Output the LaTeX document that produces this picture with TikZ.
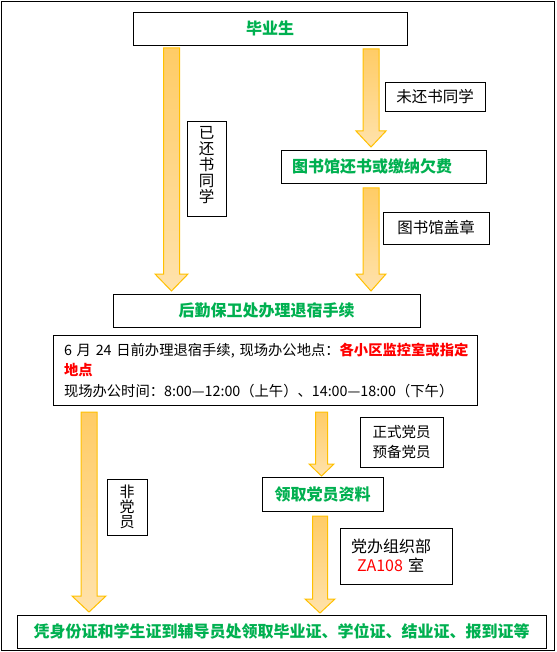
\documentclass[tikz,border=0pt]{standalone}
\usepackage{fontspec}
\setmainfont{Noto Sans CJK SC}
\usepackage{tikz}
\usetikzlibrary{calc}
\usepackage{xcolor}
\definecolor{stepgreen}{RGB}{0, 176, 80}
\definecolor{noticered}{RGB}{255, 0, 0}
\definecolor{arrowedge}{RGB}{255, 192, 0}
\definecolor{arrowtop}{RGB}{255, 204, 102}
\definecolor{arrowbottom}{RGB}{255, 226, 172}
% #1 top, #2 tip, #3 half shaft, #4 half head, #5 head length
\newcommand{\fatarrow}[5]{%
  \shade[top color=arrowtop, bottom color=arrowbottom, draw=arrowedge, line width=1pt, line join=miter]
    let \p1=(#1), \p2=(#2) in
    (\x1-#3pt,\y1) -- (\x1+#3pt,\y1) -- (\x1+#3pt,\y2+#5pt) -- (\x1+#4pt,\y2+#5pt)
    -- (\x2,\y2) -- (\x1-#4pt,\y2+#5pt) -- (\x1-#3pt,\y2+#5pt) -- cycle;}

\begin{document}
\begin{tikzpicture}[x=1pt, y=-1pt,
    stepbox/.style={draw, line width=0.8pt, inner sep=0pt, text=stepgreen,
      font=\fontsize{16}{19}\selectfont\bfseries},
    notebox/.style={draw, line width=0.8pt, inner sep=0pt, align=center,
      font=\fontsize{15.5}{16}\selectfont}]

  \useasboundingbox (0,0) rectangle (556,652);
  \draw[line width=0.8pt] (1.5,1.5) rectangle (554,650.5);

  % ---------- Steps ----------
  \node[stepbox, minimum width=274pt, minimum height=33pt] (grad) at (270,28.5) {毕业生};
  \node[stepbox, minimum width=205pt, minimum height=33pt, text width=183pt, inner xsep=11pt, align=left] (lib) at (383.5,166.5) {图书馆还书或缴纳欠费};
  \node[stepbox, minimum width=307pt, minimum height=33pt] (dorm) at (266.5,310.5) {后勤保卫处办理退宿手续};
  \node[draw, line width=0.8pt, inner ysep=0pt, inner xsep=11pt, text width=402pt, minimum height=70pt, align=left,
    font=\fontsize{14.3}{20.5}\selectfont] (info) at (265,370)
    {\mbox{6 月 24 日前办理退宿手续, 现场办公地点：\textcolor{noticered}{\bfseries 各小区监控室或指定}}\\
     \textcolor{noticered}{\bfseries 地点}\\
     \mbox{现场办公时间：8:00—12:00（上午）、14:00—18:00（下午）}};
  \node[stepbox, minimum width=121pt, minimum height=34pt] (party) at (322.5,494) {领取党员资料};
  \node[stepbox, minimum width=529pt, minimum height=33pt] (final) at (281.5,631.5) {凭身份证和学生证到辅导员处领取毕业证、学位证、结业证、报到证等};

  % ---------- Labels ----------
  \node[notebox, minimum width=39pt, minimum height=95pt, text depth=8pt] (returned) at (206.5,168.5) {已\\还\\书\\同\\学};
  \node[notebox, minimum width=100pt, minimum height=29pt] (unreturned) at (435,96.5) {未还书同学};
  \node[notebox, minimum width=106pt, minimum height=32pt] (stamp) at (436,228) {图书馆盖章};
  \node[notebox, minimum width=40pt, minimum height=56pt, font=\fontsize{15}{15}\selectfont] (nonparty) at (127,507) {非\\党\\员};
  \node[notebox, minimum width=83pt, minimum height=50pt, font=\fontsize{14.5}{20}\selectfont] (member) at (401.5,442) {正式党员\\预备党员};
  \node[notebox, minimum width=112pt, minimum height=56pt, text width=90pt, inner xsep=11pt, align=left,
    font=\fontsize{16}{19}\selectfont] (office) at (396,556)
    {党办组织部\\\hspace*{6pt}\textcolor{noticered}{ZA108} 室};

  % ---------- Arrows ----------
  \coordinate (a1s) at (171.5,48);  \coordinate (a1t) at (171.5,291);
  \coordinate (a2s) at (371,49);    \coordinate (a2t) at (371,147);
  \coordinate (a3s) at (371,188);   \coordinate (a3t) at (371,291);
  \coordinate (a4s) at (89,412);    \coordinate (a4t) at (89,612);
  \coordinate (a5s) at (321.5,412); \coordinate (a5t) at (321.5,476);
  \coordinate (a6s) at (320,516);   \coordinate (a6t) at (320,613);
  \fatarrow{a1s}{a1t}{8}{16.5}{17}
  \fatarrow{a2s}{a2t}{8}{15}{16}
  \fatarrow{a3s}{a3t}{8}{15}{17}
  \fatarrow{a4s}{a4t}{8}{17}{16}
  \fatarrow{a5s}{a5t}{6}{12.5}{12}
  \fatarrow{a6s}{a6t}{7.5}{15}{14}

\end{tikzpicture}
\end{document}
